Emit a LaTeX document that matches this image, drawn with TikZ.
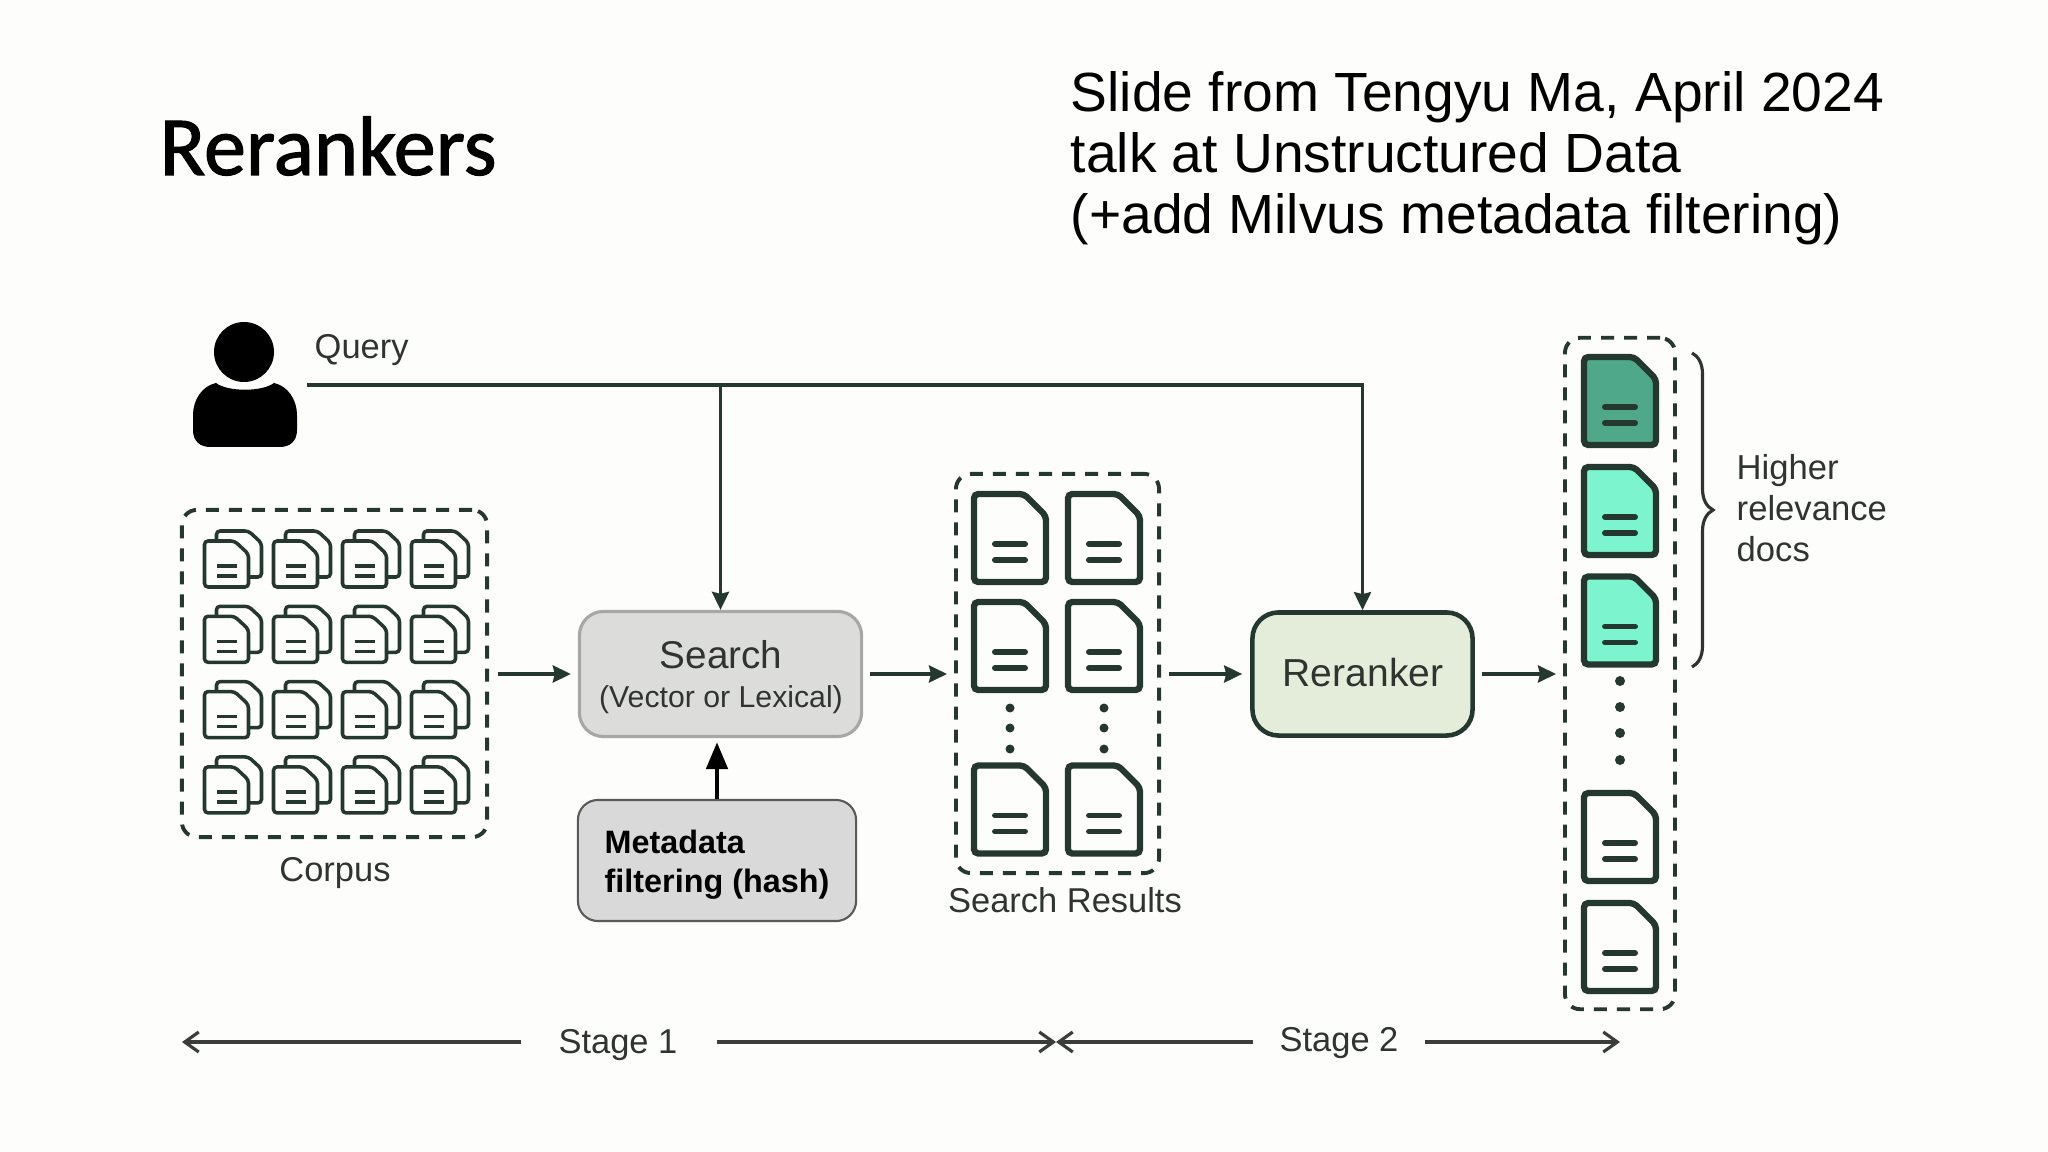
\documentclass[tikz,border=0pt]{standalone}
\usepackage{fontspec}
\setmainfont{Liberation Sans}
\newfontfamily\slidefont[FakeBold=1.3]{Carlito}
\usetikzlibrary{arrows.meta}
\usetikzlibrary{decorations.pathreplacing}
\definecolor{pagebg}{HTML}{FDFEFB}
\definecolor{inkgreen}{HTML}{24382F}
\definecolor{labelgray}{HTML}{2F3431}
\definecolor{stageline}{HTML}{3A3D3B}
\definecolor{searchfill}{HTML}{DCDCDB}
\definecolor{searchline}{HTML}{A6A8A6}
\definecolor{metafill}{HTML}{D9D9D9}
\definecolor{metaline}{HTML}{5A5A5A}
\definecolor{rerankfill}{HTML}{E4EDD9}
\definecolor{topdoc}{HTML}{4FA88A}
\definecolor{nextdoc}{HTML}{7CF5CF}
\tikzset{
	labeltext/.style={text=labelgray, inner sep=0pt, font=\fontsize{9.8}{11.8}\selectfont},
	dashbox/.style={draw=inkgreen, line width=1.1pt, dash pattern=on 0.13cm off 0.10cm, rounded corners=0.15cm, inner sep=0pt},
	flow/.style={draw=inkgreen, line width=1pt, -{Stealth[length=0.18cm,width=0.17cm,inset=0.02cm]}},
	stagearrow/.style={draw=stageline, line width=0.9pt, -{Straight Barb[length=0.14cm,width=0.2cm]}},
	pics/bigdoc/.style={code={
		\path[pic actions, draw=inkgreen, line width=1.8pt, rounded corners=1.2pt]
		 (-36,-44) -- (14,-44) -- (36,-22) -- (36,44) -- (-36,44) -- cycle;
		\draw[inkgreen, line width=1.7pt, line cap=round] (-15,6) -- (15,6) (-15,22) -- (15,22);
	}},
	pics/smalldoc/.style={code={
		\draw[inkgreen, fill=pagebg, line width=1pt, rounded corners=1pt]
		 (-10,-33) -- (22,-33) -- (35,-21) -- (35,13) -- (-10,13) -- cycle;
		\draw[inkgreen, fill=pagebg, line width=1pt, rounded corners=1pt]
		 (-22,-23) -- (8,-23) -- (22,-10) -- (22,23) -- (-22,23) -- cycle;
		\draw[inkgreen, line width=1pt] (-10,2) -- (10,2) (-10,12) -- (10,12);
	}},
}
\begin{document}
\begin{tikzpicture}[x=0.01cm, y=-0.01cm]
	\path[use as bounding box, fill=pagebg] (0,0) rectangle (2048,1152);

	\node[anchor=base west, inner sep=0pt, text=black, font=\slidefont\fontsize{23.95}{28}\selectfont] (slidetitle) at (159,175) {Rerankers};
	\node[anchor=north west, inner sep=0pt, align=left, text=black, font=\fontsize{15.7}{17.35}\selectfont] (slidenote) at (1070,71)
	 {Slide from Tengyu Ma, April 2024\\talk at Unstructured Data\\(+add Milvus metadata filtering)};

	\fill[black] (244,352) circle(30);
	\fill[black] (216,383) .. controls (228,392) and (262,392) .. (274,383)
	 .. controls (288,386) and (297,400) .. (297,415) -- (297,430)
	 .. controls (297,441) and (290,447) .. (280,447) -- (210,447)
	 .. controls (200,447) and (193,441) .. (193,430) -- (193,415)
	 .. controls (193,400) and (202,386) .. (216,383) -- cycle;
	\node[labeltext, anchor=base west] (querytext) at (314,359) {Query};
	\coordinate (querystart) at (307,385);

	\node[dashbox, minimum width=3.05cm, minimum height=3.27cm] (corpus) at (334.5,673.5) {};
	\foreach \col in {0,1,2,3}
		\foreach \row in {0,1,2,3}
			\pic at ({226.5+69*\col},{564+75.3*\row}) {smalldoc};
	\node[labeltext, anchor=base] (corpustext) at (335,881) {Corpus};

	\node[draw=searchline, fill=searchfill, line width=0.9pt, rounded corners=0.24cm, minimum width=2.82cm, minimum height=1.25cm, inner sep=0pt] (search) at (720.5,674) {};
	\node[anchor=base, inner sep=0pt, text=labelgray, font=\fontsize{11}{13}\selectfont] (searchtext) at (721,668) {Search};
	\node[anchor=base, inner sep=0pt, text=labelgray, font=\fontsize{8.6}{10}\selectfont] (searchsub) at (721,707) {(Vector or Lexical)};

	\node[draw=metaline, fill=metafill, line width=0.6pt, rounded corners=0.2cm, minimum width=2.78cm, minimum height=1.21cm, inner sep=0pt] (meta) at (717,860.5) {};
	\node[anchor=base west, inner sep=0pt, align=left, text=black, font=\bfseries\fontsize{9.2}{11}\selectfont] (metatext) at (604,853) {Metadata};
	\node[anchor=base west, inner sep=0pt, align=left, text=black, font=\bfseries\fontsize{9.2}{11}\selectfont] (metatexttwo) at (604,892) {filtering (hash)};

	\node[dashbox, minimum width=2.03cm, minimum height=3.99cm] (results) at (1057.5,673.5) {};
	\foreach \col in {1010,1104}
	{
		\foreach \row in {538,646,809.5}
			\pic at (\col,\row) {bigdoc};
		\foreach \row in {708,728,749}
			\fill[inkgreen] (\col,\row) circle(4.5);
	}
	\node[labeltext, anchor=base] (resultstext) at (1065,912) {Search Results};

	\node[draw=inkgreen, fill=rerankfill, line width=1.3pt, rounded corners=0.26cm, minimum width=2.2cm, minimum height=1.23cm, inner sep=0pt] (reranker) at (1362.5,674) {};
	\node[anchor=base, inner sep=0pt, text=labelgray, font=\fontsize{11.1}{13}\selectfont] (rerankertext) at (1363,686) {Reranker};

	\node[dashbox, minimum width=1.10cm, minimum height=6.71cm] (ranked) at (1620,673.5) {};
	\pic[fill=topdoc] at (1620,401) {bigdoc};
	\pic[fill=nextdoc] at (1620,511) {bigdoc};
	\pic[fill=nextdoc] at (1620,620.5) {bigdoc};
	\foreach \row in {681,707,733,760}
		\fill[inkgreen] (1620,\row) circle(5);
	\pic at (1620,837) {bigdoc};
	\pic at (1620,947) {bigdoc};

	\coordinate (bracetop) at (1692,353);
	\coordinate (bracebot) at (1692,667);
	\draw[draw=labelgray, line width=0.9pt, decorate, decoration={brace, amplitude=0.21cm}] (bracetop) -- (bracebot);
	\node[labeltext, anchor=base west, font=\fontsize{9.85}{11.6}\selectfont] (higher) at (1736,480) {Higher};
	\node[labeltext, anchor=base west, font=\fontsize{9.85}{11.6}\selectfont] (relevance) at (1736,521) {relevance};
	\node[labeltext, anchor=base west, font=\fontsize{9.85}{11.6}\selectfont] (docstext) at (1736,562) {docs};

	\draw[flow] (querystart) -| (reranker.north);
	\draw[flow] (querystart -| search.north) -- (search.north);
	\draw[flow, shorten <=0.09cm, shorten >=0.07cm] (corpus.east |- search.west) -- (search.west);
	\draw[flow, shorten <=0.07cm, shorten >=0.07cm] (search.east) -- (results.west |- search.east);
	\draw[flow, shorten <=0.08cm, shorten >=0.08cm] (results.east |- reranker.west) -- (reranker.west);
	\draw[flow, shorten <=0.07cm, shorten >=0.07cm] (reranker.east) -- (ranked.west |- reranker.east);
	\draw[black, line width=1.4pt, -{Triangle[length=0.27cm,width=0.21cm]}, shorten >=0.04cm] (meta.north) -- (meta.north |- search.south);

	\node[labeltext, anchor=base] (stageone) at (618,1053) {Stage 1};
	\node[labeltext, anchor=base] (stagetwo) at (1339,1051) {Stage 2};
	\coordinate (stageleft) at (182,1042);
	\coordinate (stagemid) at (1056,1042);
	\coordinate (stageright) at (1620,1042);
	\draw[stagearrow] (stageone.west |- stageleft) ++(-37,0) -- (stageleft);
	\draw[stagearrow] (stageone.east |- stageleft) ++(39,0) -- (stagemid);
	\draw[stagearrow] (stagetwo.west |- stagemid) ++(-26,0) -- (stagemid);
	\draw[stagearrow] (stagetwo.east |- stageright) ++(26,0) -- (stageright);
\end{tikzpicture}
\end{document}
